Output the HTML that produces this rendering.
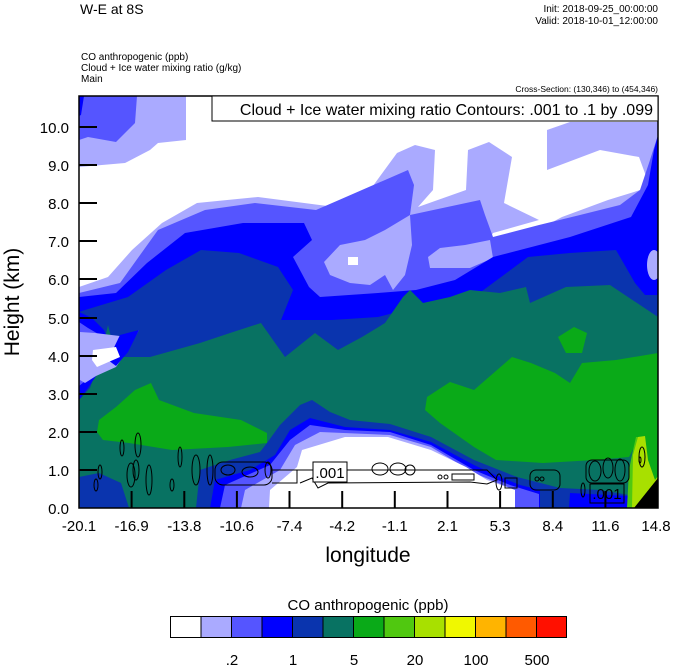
<!DOCTYPE html>
<html><head><meta charset="utf-8"><style>
html,body{margin:0;padding:0;background:#fff;}
body{width:674px;height:667px;overflow:hidden;font-family:"Liberation Sans",sans-serif;}
</style></head><body>
<svg width="674" height="667" viewBox="0 0 674 667" xmlns="http://www.w3.org/2000/svg" font-family="Liberation Sans, sans-serif">
<defs><clipPath id="pc"><rect x="79" y="96" width="579" height="412"/></clipPath></defs>
<g clip-path="url(#pc)">
<rect x="79" y="96" width="579" height="412" fill="#fff"/>
<polygon fill="#aaaaff" points="79,96 186,96 186,140 158,143 150,150 125,163 79,167"/>
<polygon fill="#5555ff" points="79,96 137,96 135,123 116,142 88,137 79,140"/>
<polygon fill="#0000ff" points="79,96 84,96 81,115 79,116"/>
<polygon fill="#aaaaff" points="79,287 108,277 132,250 162,223 197,203 258,197 335,207 370,190 397,153 415,145 435,150 433,190 418,207 466,190 468,150 489,142 512,157 504,203 539,220 493,233 489,240 543,227 562,217 608,200 650,187 639,157 600,150 547,170 547,130 570,122 658,122 658,508 79,508"/>
<polygon fill="#5555ff" points="79,293 120,283 158,230 205,210 255,203 316,210 339,200 408,170 414,185 410,215 480,200 485,215 493,237 539,225 580,215 620,205 640,190 650,160 658,135 658,508 79,508"/>
<polygon fill="#aaaaff" points="385,230 410,215 412,245 405,275 393,290 385,275 370,285 350,283 330,275 324,262 340,245 365,240"/>
<polygon fill="#fff" points="348,257 358,257 358,265 348,265"/>
<polygon fill="#aaaaff" points="428,257 440,248 465,245 490,240 493,258 470,268 430,268"/>
<polygon fill="#0000ff" points="79,297 116,293 147,263 185,233 243,223 304,223 312,240 293,257 309,287 320,297 378,293 416,290 455,280 493,257 570,237 631,217 648,185 654,150 658,135 658,508 79,508"/>
<ellipse cx="654" cy="265" rx="7" ry="15" fill="#aaaaff"/>
<polygon fill="#0a34ae" points="79,312 85,310 128,297 166,270 201,250 239,253 278,267 293,290 281,320 332,320 378,317 416,307 474,297 528,257 570,253 616,250 635,283 645,295 658,295 658,508 79,508"/>
<polygon fill="#087262" points="79,400 90,388 100,360 108,325 116,357 150,357 200,343 230,333 261,323 285,357 315,333 338,350 362,337 385,323 403,297 410,290 423,303 450,297 470,290 500,293 526,287 530,303 566,287 610,285 658,317 658,508 79,508"/>
<polygon fill="#0000ff" points="79,312 92,318 104,330 110,345 100,370 88,388 79,400"/>
<polygon fill="#5555ff" points="79,322 88,328 100,335 105,348 95,368 84,382 79,386"/>
<polygon fill="#aaaaff" points="80,332 95,333 128,337 139,330 128,350 116,367 96,376 85,383 80,380"/>
<polygon fill="#0000ff" points="120,335 139,330 128,352 116,366 108,360"/>
<polygon fill="#fff" points="93,350 116,347 120,357 97,367 92,360"/>
<polygon fill="#0aaa18" points="97,432 99,420 116,407 135,390 151,383 159,400 194,413 241,420 267,433 267,443 228,447 172,450 129,443 103,440"/>
<polygon fill="#0aaa18" points="427,397 450,382 474,390 512,357 531,363 555,373 570,383 582,363 616,360 658,353 658,508 642,437 638,440 629,457 595,460 543,463 496,460 474,447 440,423 425,410"/>
<polygon fill="#0aaa18" points="558,337 574,327 587,333 582,353 566,353"/>
<polygon fill="#087262" points="129,508 129,470 200,462 260,452 267,443 300,440 400,445 500,470 629,470 629,508"/>
<polygon fill="#0a34ae" points="79,477 99,473 121,483 129,508 79,508"/>
<polygon fill="#0a34ae" points="196,508 200,470 230,460 260,452 267,443 280,425 300,405 312,400 330,412 350,420 390,424 431,437 474,460 517,477 560,488 600,490 629,495 629,508"/>
<polygon fill="#0000ff" points="210,508 215,480 250,470 275,455 290,430 310,418 345,427 390,430 431,442 474,465 500,477 520,485 540,490 540,508"/>
<polygon fill="#0000ff" points="569,508 570,493 629,496 629,508"/>
<polygon fill="#5555ff" points="220,508 225,485 270,465 290,440 310,425 345,430 390,432 431,445 474,470 510,485 539,494 539,508"/>
<polygon fill="#aaaaff" points="241,508 245,490 280,470 295,445 320,432 390,435 431,447 474,473 515,490 515,508"/>
<polygon fill="#fff" points="269,508 270,490 297,467 302,450 345,437 388,437 431,450 466,467 487,480 515,490 515,508"/>
<polygon fill="#50c810" points="627,508 629,470 632,455 636,437 640,437 640,508"/>
<polygon fill="#a8e000" points="632,508 633,455 638,437 645,436 648,460 655,480 658,476 658,508"/>
<polygon fill="#000" points="634,508 658,478 658,508"/>
<g fill="none" stroke="#000" stroke-width="1">
<ellipse cx="122" cy="448" rx="2" ry="8"/>
<ellipse cx="138" cy="445" rx="3" ry="12"/>
<ellipse cx="136" cy="470" rx="3" ry="10"/>
<ellipse cx="131" cy="475" rx="4" ry="12"/>
<ellipse cx="149" cy="480" rx="3" ry="15"/>
<ellipse cx="180" cy="457" rx="2" ry="10"/>
<ellipse cx="172" cy="485" rx="2" ry="6"/>
<ellipse cx="196" cy="470" rx="4" ry="15"/>
<ellipse cx="210" cy="470" rx="3" ry="15"/>
<ellipse cx="100" cy="472" rx="2" ry="7"/>
<ellipse cx="96" cy="485" rx="2" ry="6"/>
<rect x="215" y="462" width="57" height="23" rx="8"/>
<ellipse cx="228" cy="470" rx="7" ry="5"/>
<ellipse cx="250" cy="472" rx="8" ry="5"/>
<ellipse cx="268" cy="470" rx="3" ry="8"/>
<path d="M272,470 L297,470 L297,483 L272,483"/>
<path d="M297,470 L487,470 L497,480 L487,484 L470,482 L328,483 L318,488 L312,478 L300,483"/>
<ellipse cx="380" cy="469" rx="8" ry="6"/>
<ellipse cx="398" cy="469" rx="8" ry="6"/>
<ellipse cx="410" cy="470" rx="5" ry="5"/>
<ellipse cx="440" cy="477" rx="2" ry="2"/>
<ellipse cx="446" cy="477" rx="2" ry="2"/>
<rect x="452" y="474" width="22" height="6"/>
<ellipse cx="499" cy="482" rx="3" ry="8"/>
<rect x="505" y="478" width="12" height="10"/>
<rect x="530" y="470" width="30" height="20" rx="6"/>
<ellipse cx="537" cy="479" rx="2" ry="2"/>
<ellipse cx="542" cy="479" rx="2" ry="2"/>
<ellipse cx="595" cy="471" rx="6" ry="10"/>
<ellipse cx="608" cy="468" rx="5" ry="10"/>
<ellipse cx="620" cy="470" rx="5" ry="11"/>
<ellipse cx="583" cy="490" rx="2" ry="7"/>
<ellipse cx="642" cy="457" rx="3" ry="10"/>
<ellipse cx="640" cy="460" rx="1" ry="3"/>
<rect x="586" y="460" width="43" height="23" rx="6"/>
</g>
<rect x="313" y="462" width="34" height="20" fill="#fff" stroke="#000"/>
<text x="330" y="478" font-size="15" text-anchor="middle">.001</text>
<rect x="590" y="484" width="34" height="19" fill="none" stroke="#000"/>
<text x="607" y="499" font-size="15" text-anchor="middle">.001</text>
</g>
<rect x="79" y="96" width="579" height="412" fill="none" stroke="#000" stroke-width="1.5"/>
<rect x="212" y="96" width="446" height="25" fill="#fff" stroke="#000" stroke-width="1"/>
<text x="653" y="115" font-size="16" text-anchor="end">Cloud + Ice water mixing ratio Contours: .001 to .1 by .099</text>
<g stroke="#000" stroke-width="2">
<line x1="79" y1="470" x2="97" y2="470"/><line x1="79" y1="432" x2="97" y2="432"/><line x1="79" y1="394" x2="97" y2="394"/><line x1="79" y1="356" x2="97" y2="356"/><line x1="79" y1="318" x2="97" y2="318"/><line x1="79" y1="279" x2="97" y2="279"/><line x1="79" y1="241" x2="97" y2="241"/><line x1="79" y1="203" x2="97" y2="203"/><line x1="79" y1="165" x2="97" y2="165"/><line x1="79" y1="127" x2="97" y2="127"/>
<line x1="131.6" y1="508" x2="131.6" y2="491"/><line x1="184.3" y1="508" x2="184.3" y2="491"/><line x1="236.9" y1="508" x2="236.9" y2="491"/><line x1="289.5" y1="508" x2="289.5" y2="491"/><line x1="342.2" y1="508" x2="342.2" y2="491"/><line x1="394.8" y1="508" x2="394.8" y2="491"/><line x1="447.5" y1="508" x2="447.5" y2="491"/><line x1="500.1" y1="508" x2="500.1" y2="491"/><line x1="552.8" y1="508" x2="552.8" y2="491"/><line x1="605.4" y1="508" x2="605.4" y2="491"/>
</g>
<g font-size="15" text-anchor="end">
<text x="69" y="514">0.0</text><text x="69" y="476">1.0</text><text x="69" y="438">2.0</text><text x="69" y="400">3.0</text><text x="69" y="362">4.0</text><text x="69" y="324">5.0</text><text x="69" y="285">6.0</text><text x="69" y="247">7.0</text><text x="69" y="209">8.0</text><text x="69" y="171">9.0</text><text x="69" y="133">10.0</text>
</g>
<g font-size="15" text-anchor="middle">
<text x="79" y="531">-20.1</text><text x="131.6" y="531">-16.9</text><text x="184.3" y="531">-13.8</text><text x="236.9" y="531">-10.6</text><text x="289.5" y="531">-7.4</text><text x="342.2" y="531">-4.2</text><text x="394.8" y="531">-1.1</text><text x="447.5" y="531">2.1</text><text x="500.1" y="531">5.3</text><text x="552.8" y="531">8.4</text><text x="605.4" y="531">11.6</text><text x="656" y="531">14.8</text>
</g>
<text x="368" y="562" font-size="21" text-anchor="middle">longitude</text>
<text transform="translate(19,302) rotate(-90)" font-size="21" text-anchor="middle">Height (km)</text>
<text x="80" y="14" font-size="14">W-E at 8S</text>
<text x="658" y="12" font-size="10" text-anchor="end">Init: 2018-09-25_00:00:00</text>
<text x="658" y="24" font-size="10" text-anchor="end">Valid: 2018-10-01_12:00:00</text>
<text x="81" y="60" font-size="10">CO anthropogenic   (ppb)</text>
<text x="81" y="71" font-size="10">Cloud + Ice water mixing ratio   (g/kg)</text>
<text x="81" y="82" font-size="10">Main</text>
<text x="658" y="92" font-size="8.5" text-anchor="end">Cross-Section: (130,346) to (454,346)</text>
<text x="368" y="610" font-size="15" text-anchor="middle">CO anthropogenic  (ppb)</text>
<g stroke="#000" stroke-width="1">
<rect x="170.5" y="616.5" width="30.5" height="21" fill="#fff"/>
<rect x="201" y="616.5" width="30.5" height="21" fill="#aaaaff"/>
<rect x="231.5" y="616.5" width="30.5" height="21" fill="#5555ff"/>
<rect x="262" y="616.5" width="30.5" height="21" fill="#0000ff"/>
<rect x="292.5" y="616.5" width="30.5" height="21" fill="#0a34ae"/>
<rect x="323" y="616.5" width="30.5" height="21" fill="#087262"/>
<rect x="353.5" y="616.5" width="30.5" height="21" fill="#0aaa18"/>
<rect x="384" y="616.5" width="30.5" height="21" fill="#50c810"/>
<rect x="414.5" y="616.5" width="30.5" height="21" fill="#a8e000"/>
<rect x="445" y="616.5" width="30.5" height="21" fill="#f0f800"/>
<rect x="475.5" y="616.5" width="30.5" height="21" fill="#ffb400"/>
<rect x="506" y="616.5" width="30.5" height="21" fill="#ff5a00"/>
<rect x="536.5" y="616.5" width="30" height="21" fill="#ff1000"/>
</g>
<g font-size="15" text-anchor="middle">
<text x="232" y="665">.2</text><text x="293" y="665">1</text><text x="354" y="665">5</text><text x="415" y="665">20</text><text x="476" y="665">100</text><text x="537" y="665">500</text>
</g>
</svg>
</body></html>
